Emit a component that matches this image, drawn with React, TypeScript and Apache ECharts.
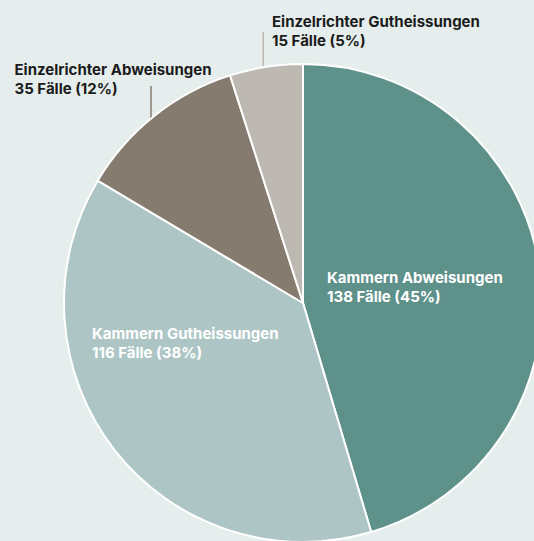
import React, { useEffect, useRef } from "react";
import * as echarts from "echarts";

const categories = [
  "Kammern Abweisungen",
  "Kammern Gutheissungen",
  "Einzelrichter Abweisungen",
  "Einzelrichter Gutheissungen",
];
const counts = [138, 116, 35, 15];
const colors = ["#5f918b", "#adc6c5", "#857b6f", "#bdb9b2"];
const outside = [false, false, true, true];

const CX = 303;
const CY = 303;
const R = 239;

// text block top-left relative to the pie centre; leader line for outer labels
const labelPos: { x: number; y: number; line?: { x: number; top: number } }[] = [
  { x: 24, y: -35 },
  { x: -211, y: 21 },
  { x: -288.5, y: -243, line: { x: -152, top: -217 } },
  { x: -31, y: -291, line: { x: -39.7, top: -271 } },
];

export default function App() {
  const ref = useRef<HTMLDivElement>(null);
  useEffect(() => {
    if (!ref.current) return;
    const chart = echarts.init(ref.current, undefined, { renderer: "svg" });
    chart.setOption({
      animation: false,
      backgroundColor: "#e5eeec",
      series: [
        {
          type: "pie",
          center: [CX, CY],
          radius: [0, R],
          startAngle: 90,
          clockwise: true,
          percentPrecision: 0,
          avoidLabelOverlap: false,
          itemStyle: { borderColor: "#ffffff", borderWidth: 2 },
          label: {
            fontFamily: "Inter",
            fontWeight: 700,
            fontSize: 15,
            lineHeight: 19,
            formatter: (p: any) => `${p.name}\n${p.value} Fälle (${p.percent}%)`,
          },
          labelLayout: (params: any) => {
            const p = labelPos[params.dataIndex];
            const res: any = {
              x: CX + p.x,
              y: CY + p.y,
              align: "left",
              verticalAlign: "top",
            };
            if (p.line) {
              const lx = CX + p.line.x;
              const ey = CY - Math.sqrt(R * R - p.line.x * p.line.x);
              res.labelLinePoints = [
                [lx, ey],
                [lx, CY + p.line.top],
                [lx, CY + p.line.top],
              ];
            }
            return res;
          },
          data: categories.map((name, i) => ({
            name,
            value: counts[i],
            itemStyle: { color: colors[i] },
            label: {
              position: outside[i] ? "outside" : "inside",
              color: outside[i] ? "#1b1b1b" : "#ffffff",
            },
            labelLine: {
              show: outside[i],
              length: 30,
              length2: 0,
              lineStyle: { color: colors[i], width: 1.5 },
            },
          })),
        },
      ],
    });
    return () => chart.dispose();
  }, []);
  return (
    <div
      ref={ref}
      style={{ position: "absolute", left: 0, top: 0, width: 534, height: 541 }}
    />
  );
}
